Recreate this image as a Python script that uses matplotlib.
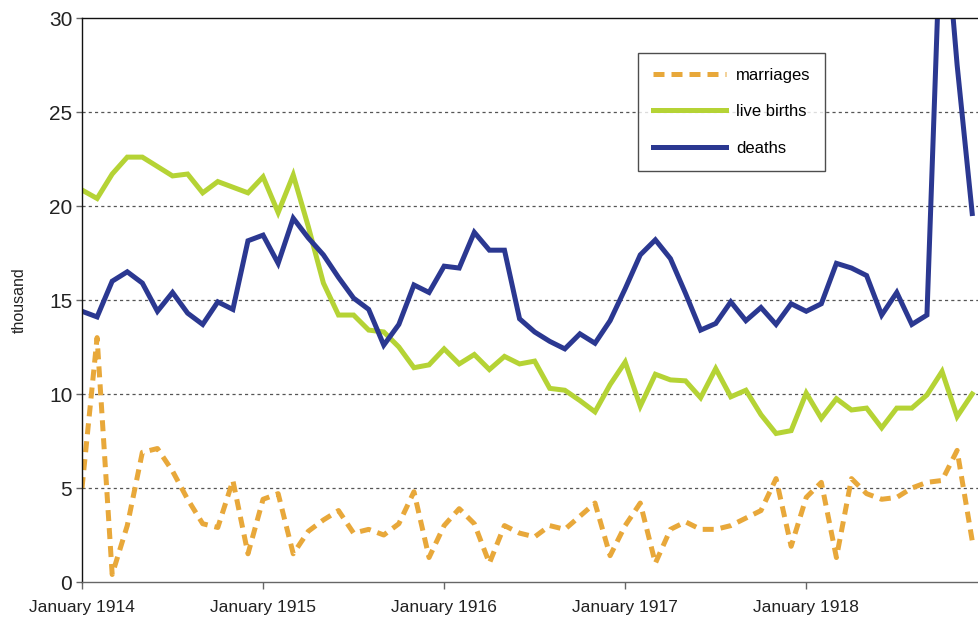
import numpy as np
import matplotlib
matplotlib.use("Agg")
import matplotlib.pyplot as plt

# monthly figures, January 1914 - December 1918 (thousand)
months = np.arange(60)
year_ticks = [0, 12, 24, 36, 48]
year_labels = ["January 1914", "January 1915", "January 1916", "January 1917", "January 1918"]

marriages = [5.0, 13.0, 0.4, 3.0, 6.9, 7.1, 5.9, 4.4, 3.1, 2.9,
             5.4, 1.5, 4.4, 4.7, 1.5, 2.7, 3.3, 3.8, 2.6, 2.8,
             2.5, 3.1, 4.8, 1.3, 3.0, 3.9, 3.1, 1.0, 3.0, 2.6,
             2.4, 3.0, 2.8, 3.5, 4.2, 1.4, 3.0, 4.2, 1.0, 2.8,
             3.2, 2.8, 2.8, 3.0, 3.4, 3.8, 5.5, 1.9, 4.5, 5.3,
             1.3, 5.5, 4.7, 4.4, 4.5, 5.0, 5.3, 5.4, 7.0, 2.2]

births = [20.85, 20.4, 21.7, 22.6, 22.6, 22.1, 21.6, 21.7, 20.7, 21.3,
          21.0, 20.7, 21.55, 19.65, 21.65, 18.9, 15.9, 14.2, 14.2, 13.4,
          13.3, 12.5, 11.4, 11.55, 12.4, 11.6, 12.1, 11.3, 12.0, 11.6,
          11.75, 10.3, 10.2, 9.65, 9.05, 10.5, 11.7, 9.35, 11.05, 10.75,
          10.7, 9.8, 11.35, 9.85, 10.2, 8.9, 7.9, 8.05, 10.05, 8.7,
          9.75, 9.15, 9.25, 8.2, 9.25, 9.25, 9.95, 11.2, 8.8, 10.0]

deaths = [14.4, 14.1, 16.0, 16.5, 15.9, 14.4, 15.4, 14.3, 13.7, 14.9,
          14.5, 18.15, 18.45, 16.95, 19.35, 18.3, 17.4, 16.2, 15.1, 14.5,
          12.6, 13.7, 15.8, 15.4, 16.8, 16.7, 18.6, 17.65, 17.65, 14.0,
          13.3, 12.8, 12.4, 13.2, 12.7, 13.9, 15.6, 17.4, 18.2, 17.2,
          15.35, 13.4, 13.75, 14.9, 13.9, 14.6, 13.7, 14.8, 14.4, 14.8,
          16.95, 16.7, 16.3, 14.2, 15.4, 13.7, 14.2, 37.0, 27.5, 19.6]

c_marr = "#E8A83A"
c_birth = "#B5D335"
c_death = "#2B3891"

plt.rcParams["font.family"] = ["Liberation Sans Narrow", "Liberation Sans", "DejaVu Sans"]

fig = plt.figure(figsize=(9.79, 6.21), dpi=100)
ax = fig.add_axes([82 / 979, 1 - 582 / 621, 1 - 82 / 979, 564 / 621])

ax.plot(months, marriages, color=c_marr, lw=3.6, dashes=(2.2, 1.4), label="marriages",
        dash_capstyle="butt")
ax.plot(months, births, color=c_birth, lw=3.6, label="live births", solid_joinstyle="miter")
ax.plot(months, deaths, color=c_death, lw=3.6, label="deaths", solid_joinstyle="miter")

ax.set_xlim(0, 59.45)
ax.set_ylim(0, 30)
ax.set_yticks([0, 5, 10, 15, 20, 25, 30])
ax.set_xticks(year_ticks)
ax.set_xticklabels(year_labels)

for y in [5, 10, 15, 20, 25]:
    ax.axhline(y, color="#555555", lw=0.9, dashes=(2.5, 2.5), zorder=0)

ax.spines["right"].set_visible(False)
ax.spines["top"].set_color("#111111")
ax.spines["left"].set_color("#111111")
ax.spines["bottom"].set_color("#666666")
for s in ["top", "left", "bottom"]:
    ax.spines[s].set_linewidth(1.0)

ax.tick_params(axis="y", direction="out", length=4, width=1, color="#666666",
               labelsize=15, pad=3, labelcolor="#222222")
ax.tick_params(axis="x", direction="out", length=5, width=1, color="#666666",
               labelsize=12.5, pad=8, labelcolor="#222222")

ax.set_ylabel("thousand", fontsize=11.5, color="#222222", labelpad=16)

leg = ax.legend(loc="upper left", bbox_to_anchor=(0.62, 0.938), borderaxespad=0,
                fontsize=12, frameon=True, fancybox=False, handlelength=4.4,
                handletextpad=0.6, labelspacing=1.3, borderpad=0.88)
leg.get_frame().set_edgecolor("#222222")
leg.get_frame().set_linewidth(1.0)

fig.savefig("out.png", dpi=100)
